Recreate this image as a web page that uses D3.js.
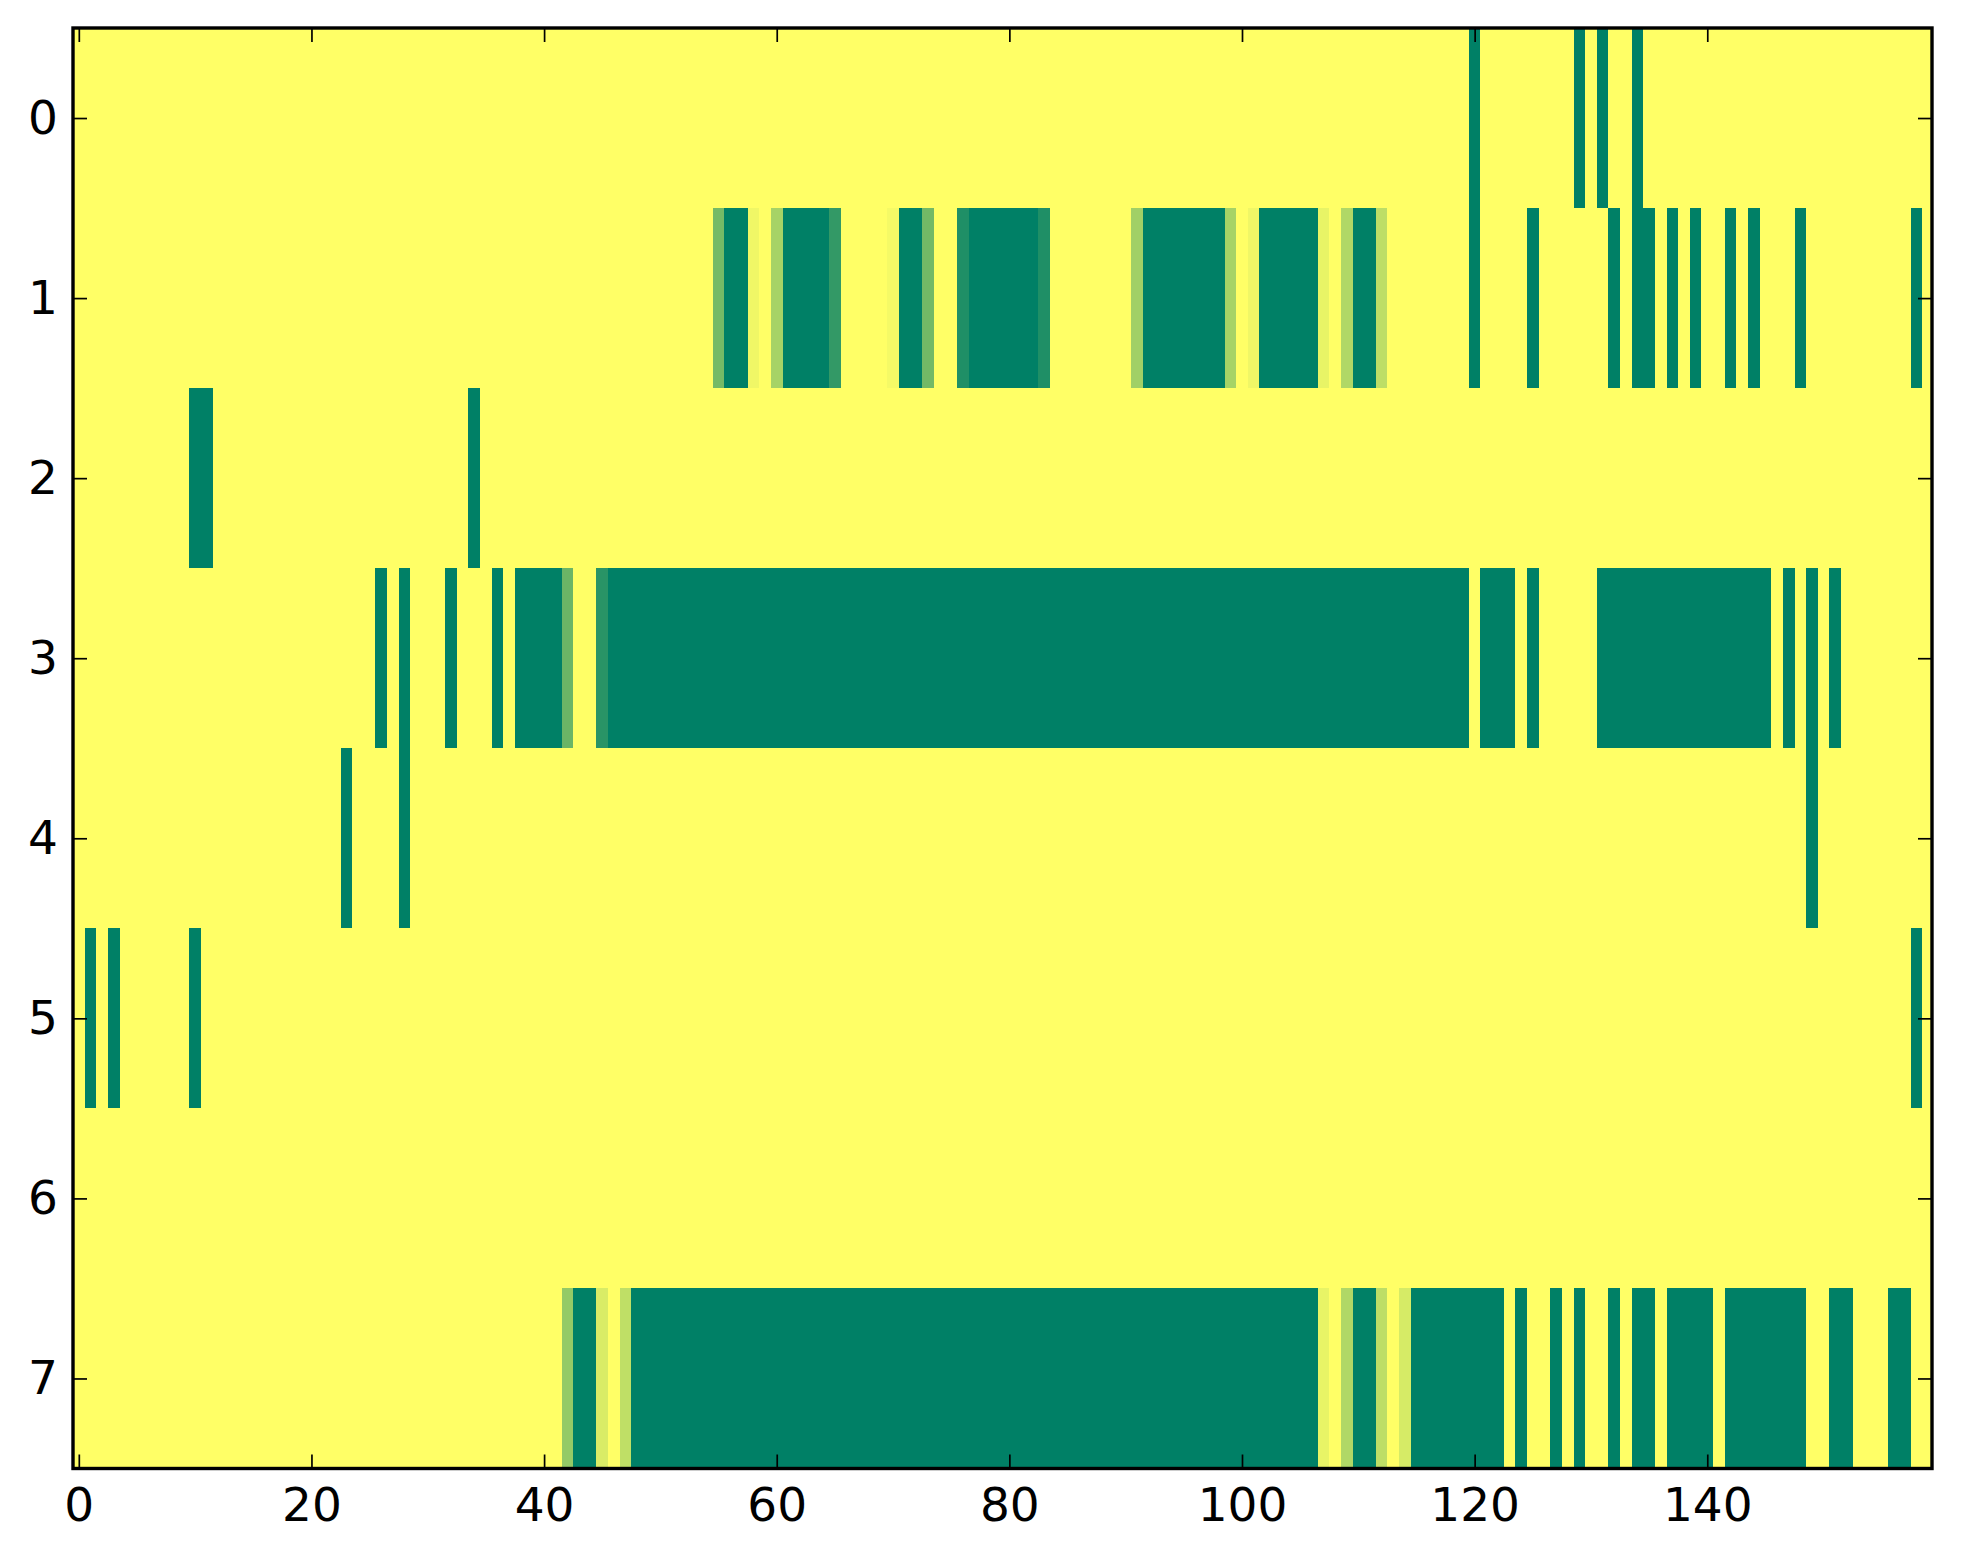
<!DOCTYPE html>
<html>
<head>
<meta charset="utf-8">
<script src="https://cdn.jsdelivr.net/npm/d3@7.9.0/dist/d3.min.js"></script>
<style>
  html, body { margin: 0; padding: 0; background: #fff; }
  svg { display: block; }
  .tick text { font-family: "DejaVu Sans", sans-serif; font-size: 47px; fill: #000; }
</style>
</head>
<body>
<svg id="chart" width="1963" height="1564"></svg>
<script>
// tick labels
const xTicks = [0, 20, 40, 60, 80, 100, 120, 140];
const yTicks = [0, 1, 2, 3, 4, 5, 6, 7];

// one array per row, 160 columns each (0 = dark green, 1 = yellow)
const row0 = [
  1,1,1,1,1,1,1,1,1,1,1,1,1,1,1,1,1,1,1,1,
  1,1,1,1,1,1,1,1,1,1,1,1,1,1,1,1,1,1,1,1,
  1,1,1,1,1,1,1,1,1,1,1,1,1,1,1,1,1,1,1,1,
  1,1,1,1,1,1,1,1,1,1,1,1,1,1,1,1,1,1,1,1,
  1,1,1,1,1,1,1,1,1,1,1,1,1,1,1,1,1,1,1,1,
  1,1,1,1,1,1,1,1,1,1,1,1,1,1,1,1,1,1,1,1,
  0,1,1,1,1,1,1,1,1,0,1,0,1,1,0,1,1,1,1,1,
  1,1,1,1,1,1,1,1,1,1,1,1,1,1,1,1,1,1,1,1
];
const row1 = [
  1,1,1,1,1,1,1,1,1,1,1,1,1,1,1,1,1,1,1,1,
  1,1,1,1,1,1,1,1,1,1,1,1,1,1,1,1,1,1,1,1,
  1,1,1,1,1,1,1,1,1,1,1,1,1,1,1,.46,0,0,.94,1,
  .65,0,0,0,0,.2,1,1,1,1,.96,0,0,.45,1,1,.12,0,0,0,
  0,0,0,.12,1,1,1,1,1,1,1,.63,0,0,0,0,0,0,0,.65,
  1,.94,0,0,0,0,0,.91,1,.69,0,0,.74,1,1,1,1,1,1,1,
  0,1,1,1,1,0,1,1,1,1,1,1,0,1,0,0,1,0,1,0,
  1,1,0,1,0,1,1,1,0,1,1,1,1,1,1,1,1,1,0,1
];
const row2 = [
  1,1,1,1,1,1,1,1,1,1,0,0,1,1,1,1,1,1,1,1,
  1,1,1,1,1,1,1,1,1,1,1,1,1,1,0,1,1,1,1,1,
  1,1,1,1,1,1,1,1,1,1,1,1,1,1,1,1,1,1,1,1,
  1,1,1,1,1,1,1,1,1,1,1,1,1,1,1,1,1,1,1,1,
  1,1,1,1,1,1,1,1,1,1,1,1,1,1,1,1,1,1,1,1,
  1,1,1,1,1,1,1,1,1,1,1,1,1,1,1,1,1,1,1,1,
  1,1,1,1,1,1,1,1,1,1,1,1,1,1,1,1,1,1,1,1,
  1,1,1,1,1,1,1,1,1,1,1,1,1,1,1,1,1,1,1,1
];
const row3 = [
  1,1,1,1,1,1,1,1,1,1,1,1,1,1,1,1,1,1,1,1,
  1,1,1,1,1,1,0,1,0,1,1,1,0,1,1,1,0,1,0,0,
  0,0,.42,1,1,.16,0,0,0,0,0,0,0,0,0,0,0,0,0,0,
  0,0,0,0,0,0,0,0,0,0,0,0,0,0,0,0,0,0,0,0,
  0,0,0,0,0,0,0,0,0,0,0,0,0,0,0,0,0,0,0,0,
  0,0,0,0,0,0,0,0,0,0,0,0,0,0,0,0,0,0,0,0,
  1,0,0,0,1,0,1,1,1,1,1,0,0,0,0,0,0,0,0,0,
  0,0,0,0,0,0,1,0,1,0,1,0,1,1,1,1,1,1,1,1
];
const row4 = [
  1,1,1,1,1,1,1,1,1,1,1,1,1,1,1,1,1,1,1,1,
  1,1,1,0,1,1,1,1,0,1,1,1,1,1,1,1,1,1,1,1,
  1,1,1,1,1,1,1,1,1,1,1,1,1,1,1,1,1,1,1,1,
  1,1,1,1,1,1,1,1,1,1,1,1,1,1,1,1,1,1,1,1,
  1,1,1,1,1,1,1,1,1,1,1,1,1,1,1,1,1,1,1,1,
  1,1,1,1,1,1,1,1,1,1,1,1,1,1,1,1,1,1,1,1,
  1,1,1,1,1,1,1,1,1,1,1,1,1,1,1,1,1,1,1,1,
  1,1,1,1,1,1,1,1,1,0,1,1,1,1,1,1,1,1,1,1
];
const row5 = [
  1,0,1,0,1,1,1,1,1,1,0,1,1,1,1,1,1,1,1,1,
  1,1,1,1,1,1,1,1,1,1,1,1,1,1,1,1,1,1,1,1,
  1,1,1,1,1,1,1,1,1,1,1,1,1,1,1,1,1,1,1,1,
  1,1,1,1,1,1,1,1,1,1,1,1,1,1,1,1,1,1,1,1,
  1,1,1,1,1,1,1,1,1,1,1,1,1,1,1,1,1,1,1,1,
  1,1,1,1,1,1,1,1,1,1,1,1,1,1,1,1,1,1,1,1,
  1,1,1,1,1,1,1,1,1,1,1,1,1,1,1,1,1,1,1,1,
  1,1,1,1,1,1,1,1,1,1,1,1,1,1,1,1,1,1,0,1
];
const row6 = [
  1,1,1,1,1,1,1,1,1,1,1,1,1,1,1,1,1,1,1,1,
  1,1,1,1,1,1,1,1,1,1,1,1,1,1,1,1,1,1,1,1,
  1,1,1,1,1,1,1,1,1,1,1,1,1,1,1,1,1,1,1,1,
  1,1,1,1,1,1,1,1,1,1,1,1,1,1,1,1,1,1,1,1,
  1,1,1,1,1,1,1,1,1,1,1,1,1,1,1,1,1,1,1,1,
  1,1,1,1,1,1,1,1,1,1,1,1,1,1,1,1,1,1,1,1,
  1,1,1,1,1,1,1,1,1,1,1,1,1,1,1,1,1,1,1,1,
  1,1,1,1,1,1,1,1,1,1,1,1,1,1,1,1,1,1,1,1
];
const row7 = [
  1,1,1,1,1,1,1,1,1,1,1,1,1,1,1,1,1,1,1,1,
  1,1,1,1,1,1,1,1,1,1,1,1,1,1,1,1,1,1,1,1,
  1,1,.58,0,0,.85,1,.75,0,0,0,0,0,0,0,0,0,0,0,0,
  0,0,0,0,0,0,0,0,0,0,0,0,0,0,0,0,0,0,0,0,
  0,0,0,0,0,0,0,0,0,0,0,0,0,0,0,0,0,0,0,0,
  0,0,0,0,0,0,0,.91,1,.69,0,0,.74,1,.84,0,0,0,0,0,
  0,0,0,1,0,1,1,0,1,0,1,1,0,1,0,0,1,0,0,0,
  0,1,0,0,0,0,0,0,0,1,1,0,0,1,1,1,0,0,1,1
];

const rows = [row0, row1, row2, row3, row4, row5, row6, row7];

const W = 1963, H = 1564;
const margin = { left: 73, right: W - 1932, top: 28, bottom: H - 1468.5 };
const iw = W - margin.left - margin.right;
const ih = H - margin.top - margin.bottom;

const x = d3.scaleLinear().domain([-0.5, 159.32]).range([0, iw]);
const y = d3.scaleLinear().domain([-0.5, 7.5]).range([0, ih]);

// matplotlib "summer" runs from (0, .5, .4) to (1, 1, .4)
const color = d3.scaleLinear().domain([0, 1]).range(['#008066', '#ffff66']);

const svg = d3.select('#chart');
const g = svg.append('g').attr('transform', `translate(${margin.left},${margin.top})`);

g.append('clipPath').attr('id', 'plot-clip')
  .append('rect').attr('width', iw).attr('height', ih);

const cells = rows.flatMap((r, ri) => r.map((v, ci) => ({ row: ri, col: ci, value: v })));

g.append('g')
  .attr('clip-path', 'url(#plot-clip)')
  .selectAll('rect')
  .data(cells)
  .join('rect')
  .attr('x', (d) => x(d.col - 0.5))
  .attr('y', (d) => y(d.row - 0.5))
  .attr('width', x(1) - x(0) + 0.6)
  .attr('height', y(1) - y(0) + 0.6)
  .attr('fill', (d) => color(d.value))
  .attr('shape-rendering', 'crispEdges');

const tickLen = 14;

function styleAxis(sel) {
  sel.select('.domain').remove();
  sel.selectAll('.tick line').attr('stroke', '#000').attr('stroke-width', 1.7);
}

g.append('g')
  .attr('transform', `translate(0,${ih})`)
  .call(d3.axisBottom(x).tickValues(xTicks).tickSize(-tickLen).tickPadding(19))
  .call(styleAxis);

g.append('g')
  .call(d3.axisTop(x).tickValues(xTicks).tickSize(-tickLen).tickFormat(''))
  .call(styleAxis);

g.append('g')
  .call(d3.axisLeft(y).tickValues(yTicks).tickSize(-tickLen).tickPadding(15))
  .call(styleAxis);

g.append('g')
  .attr('transform', `translate(${iw},0)`)
  .call(d3.axisRight(y).tickValues(yTicks).tickSize(-tickLen).tickFormat(''))
  .call(styleAxis);

g.selectAll('.tick text').attr('font-family', null).attr('font-size', null);

g.append('rect')
  .attr('width', iw)
  .attr('height', ih)
  .attr('fill', 'none')
  .attr('stroke', '#000')
  .attr('stroke-width', 3.4);
</script>
</body>
</html>
